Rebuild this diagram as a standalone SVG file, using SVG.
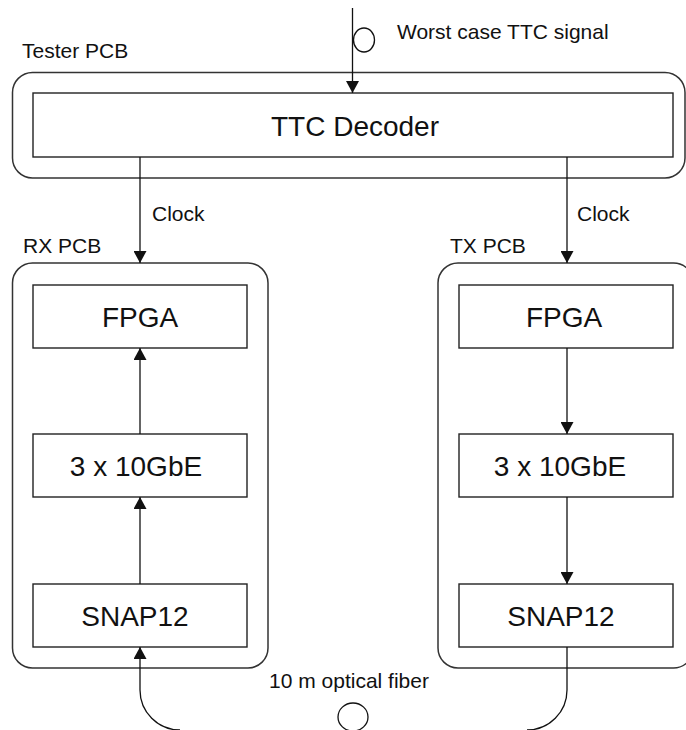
<svg xmlns="http://www.w3.org/2000/svg" width="686" height="730" viewBox="0 0 686 730">
  <style>
    .pcb { fill: none; stroke: #333; stroke-width: 1.5; }
    .box { fill: #fff; stroke: #222; stroke-width: 1.4; }
    .wire { fill: none; stroke: #111; stroke-width: 1.3; }
    .lbl { font-family: "Liberation Sans", Arial, sans-serif; font-size: 21px; fill: #111; }
    .big { font-family: "Liberation Sans", Arial, sans-serif; font-size: 28px; fill: #111; text-anchor: middle; }
  </style>
  <defs>
    <marker id="arrow" viewBox="0 0 12 13" refX="12" refY="6.5" markerWidth="12" markerHeight="13" markerUnits="userSpaceOnUse" orient="auto">
      <path d="M0,0 L12,6.5 L0,13 z" fill="#111"/>
    </marker>
  </defs>
  <rect width="686" height="730" fill="#fff"/>

  <!-- boards -->
  <g id="tester-pcb">
    <rect class="pcb" x="12.5" y="72.5" width="672.5" height="105.5" rx="20" ry="20"/>
    <text class="lbl" x="22" y="58">Tester PCB</text>
  </g>
  <g id="rx-pcb">
    <rect class="pcb" x="12.5" y="263" width="255.5" height="405" rx="20" ry="20"/>
    <text class="lbl" x="23" y="253">RX PCB</text>
  </g>
  <g id="tx-pcb">
    <rect class="pcb" x="438" y="263" width="255.5" height="405" rx="20" ry="20"/>
    <text class="lbl" x="450" y="253">TX PCB</text>
  </g>

  <!-- blocks -->
  <g id="ttc-decoder">
    <rect class="box" x="33" y="93" width="640" height="64"/>
    <text class="big" x="355" y="136">TTC Decoder</text>
  </g>
  <g id="rx-fpga">
    <rect class="box" x="33" y="285" width="214" height="63"/>
    <text class="big" x="140" y="327">FPGA</text>
  </g>
  <g id="rx-gbe">
    <rect class="box" x="33" y="434" width="214" height="63"/>
    <text class="big" x="136" y="476">3 x 10GbE</text>
  </g>
  <g id="rx-snap12">
    <rect class="box" x="33" y="584" width="214" height="63"/>
    <text class="big" x="135" y="626">SNAP12</text>
  </g>
  <g id="tx-fpga">
    <rect class="box" x="459" y="285" width="214" height="63"/>
    <text class="big" x="564" y="327">FPGA</text>
  </g>
  <g id="tx-gbe">
    <rect class="box" x="459" y="434" width="214" height="63"/>
    <text class="big" x="560" y="476">3 x 10GbE</text>
  </g>
  <g id="tx-snap12">
    <rect class="box" x="459" y="584" width="214" height="63"/>
    <text class="big" x="561" y="626">SNAP12</text>
  </g>

  <!-- connectors -->
  <g id="connectors">
    <path class="wire" d="M352.5,8 V93" marker-end="url(#arrow)"/>
    <ellipse class="wire" cx="364" cy="40" rx="10.5" ry="12"/>
    <text class="lbl" x="397" y="39">Worst case TTC signal</text>

    <path class="wire" d="M140,157 V263" marker-end="url(#arrow)"/>
    <text class="lbl" x="152" y="221">Clock</text>
    <path class="wire" d="M567,157 V263" marker-end="url(#arrow)"/>
    <text class="lbl" x="577" y="221">Clock</text>

    <path class="wire" d="M140,434 V348" marker-end="url(#arrow)"/>
    <path class="wire" d="M140,584 V497" marker-end="url(#arrow)"/>
    <path class="wire" d="M567,348 V434" marker-end="url(#arrow)"/>
    <path class="wire" d="M567,497 V584" marker-end="url(#arrow)"/>

    <!-- optical fiber loop -->
    <path class="wire" d="M180,730 A40,40 0 0 1 140,690 V647" marker-end="url(#arrow)"/>
    <path class="wire" d="M567,647 V690 A40,40 0 0 1 527,730"/>
    <ellipse class="wire" cx="353" cy="717" rx="15" ry="14"/>
    <text class="lbl" x="349" y="688" text-anchor="middle">10 m optical fiber</text>
  </g>
</svg>
